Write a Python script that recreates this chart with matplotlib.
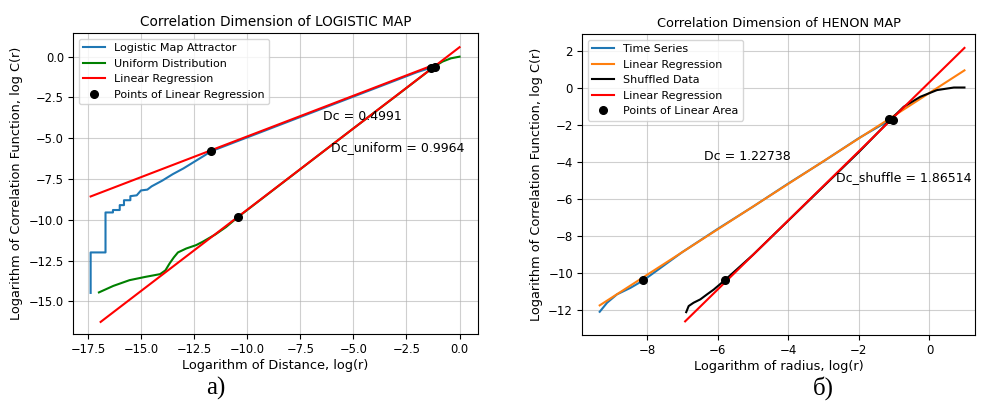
import numpy as np
import matplotlib.pyplot as plt

# --- left panel: logistic map ---
logistic_x = [-17.37, -17.37, -16.67, -16.67, -16.32, -16.32, -16.0, -16.0, -15.8, -15.8,
              -15.5, -15.5, -15.2, -15.0, -14.7, -14.5, -14.0, -13.5, -13.0, -12.5,
              -12.0, -11.7, -10.0, -8.0, -6.0, -4.0, -2.0, -1.35]
logistic_y = [-14.48, -12.0, -12.0, -9.55, -9.55, -9.4, -9.4, -9.1, -9.1, -8.8,
              -8.8, -8.55, -8.5, -8.2, -8.15, -7.95, -7.6, -7.2, -6.85, -6.45,
              -6.05, -5.8, -4.95, -3.95, -2.95, -1.95, -0.95, -0.68]

uniform_x = [-16.98, -16.3, -15.54, -14.8, -14.1, -13.85, -13.65, -13.45, -13.26, -12.87,
             -12.4, -12.1, -11.5, -11.0, -10.45, -9.0, -7.0, -5.0, -3.0, -1.2,
             -0.8, -0.4, 0.0]
uniform_y = [-14.45, -14.05, -13.7, -13.5, -13.33, -13.1, -12.67, -12.3, -12.0, -11.76,
             -11.55, -11.35, -10.9, -10.45, -9.85, -8.4, -6.4, -4.4, -2.42, -0.62,
             -0.3, -0.1, 0.0]

dc_logistic, b_logistic = 0.4991, 0.1
dc_uniform, b_uniform = 0.9964, 0.58
reg_logistic_x = [-17.37, -1.2]
reg_uniform_x = [-16.9, 0.0]

pts_left_x = [-11.7, -1.35, -10.45, -1.15]
pts_left_y = [-5.8, -0.68, -9.83, -0.62]

# --- right panel: Henon map ---
series_x = [-9.34, -9.13, -8.85, -8.47, -8.1, -7.0, -6.0, -5.0, -4.0, -3.0, -2.0, -1.1]
series_y = [-12.07, -11.58, -11.13, -10.78, -10.37, -8.85, -7.6, -6.4, -5.15, -3.95, -2.7, -1.7]

shuffled_x = [-6.89, -6.82, -6.68, -6.49, -6.3, -6.11, -5.8, -5.0, -4.0, -3.0, -2.0,
              -1.1, -0.73, -0.26, 0.21, 0.69, 0.99]
shuffled_y = [-12.09, -11.76, -11.58, -11.4, -11.13, -10.87, -10.37, -9.0, -7.15, -5.3, -3.45,
              -1.7, -1.01, -0.47, -0.11, 0.03, 0.03]

dc_series, b_series = 1.22738, -0.26
dc_shuffle, b_shuffle = 1.86514, 0.32
reg_series_x = [-9.34, 0.99]
reg_shuffle_x = [-6.92, 0.99]

pts_right_x = [-8.1, -1.16, -5.8, -1.03]
pts_right_y = [-10.37, -1.67, -10.37, -1.73]

fig = plt.figure(figsize=(9.84, 4.12), dpi=100)
fs = 9.3

# %% left
ax1 = fig.add_axes([0.0742, 0.1893, 0.4116, 0.7306])
ax1.plot(logistic_x, logistic_y, color='#1f77b4', lw=1.5, label='Logistic Map Attractor')
ax1.plot(uniform_x, uniform_y, color='green', lw=1.5, label='Uniform Distribution')
rx = np.array(reg_logistic_x)
ax1.plot(rx, dc_logistic * rx + b_logistic, color='red', lw=1.5, label='Linear Regression')
ux = np.array(reg_uniform_x)
ax1.plot(ux, dc_uniform * ux + b_uniform, color='red', lw=1.5)
ax1.plot(pts_left_x, pts_left_y, 'o', color='black', ms=5.5, label='Points of Linear Regression')
ax1.text(-6.45, -3.64, 'Dc = 0.4991', fontsize=9, va='center')
ax1.text(-6.03, -5.6, 'Dc_uniform = 0.9964', fontsize=9, va='center')
ax1.set_xlim(-18.2, 0.87)
ax1.set_ylim(-17.0, 1.45)
ax1.set_xticks([-17.5, -15.0, -12.5, -10.0, -7.5, -5.0, -2.5, 0.0])
ax1.set_yticks([0.0, -2.5, -5.0, -7.5, -10.0, -12.5, -15.0])
ax1.set_title('Correlation Dimension of LOGISTIC MAP', fontsize=9.8, pad=5)
ax1.set_xlabel('Logarithm of Distance, log(r)', fontsize=fs, labelpad=2)
ax1.set_ylabel('Logarithm of Correlation Function, log C(r)', fontsize=fs)
ax1.tick_params(labelsize=8.3, pad=3)
ax1.grid(True, alpha=0.6)
ax1.legend(loc='upper left', fontsize=8)

# %% right
ax2 = fig.add_axes([0.5915, 0.187, 0.3994, 0.7306])
ax2.plot(series_x, series_y, color='#1f77b4', lw=1.5, label='Time Series')
sx = np.array(reg_series_x)
ax2.plot(sx, dc_series * sx + b_series, color='#ff7f0e', lw=1.5, label='Linear Regression')
ax2.plot(shuffled_x, shuffled_y, color='black', lw=1.5, label='Shuffled Data')
hx = np.array(reg_shuffle_x)
ax2.plot(hx, dc_shuffle * hx + b_shuffle, color='red', lw=1.5, label='Linear Regression')
ax2.plot(pts_right_x, pts_right_y, 'o', color='black', ms=5.5, label='Points of Linear Area')
ax2.text(-6.4, -3.71, 'Dc = 1.22738', fontsize=9, va='center')
ax2.text(-2.64, -4.8, 'Dc_shuffle = 1.86514', fontsize=9, va='center')
ax2.set_xlim(-9.84, 1.29)
ax2.set_ylim(-13.32, 2.92)
ax2.set_xticks([-8, -6, -4, -2, 0])
ax2.set_yticks([2, 0, -2, -4, -6, -8, -10, -12])
ax2.set_title('Correlation Dimension of HENON MAP', fontsize=9.3, pad=5)
ax2.set_xlabel('Logarithm of radius, log(r)', fontsize=fs, labelpad=2)
ax2.set_ylabel('Logarithm of Correlation Function, log C(r)', fontsize=fs)
ax2.tick_params(labelsize=8.5, pad=3)
ax2.grid(True, alpha=0.6)
ax2.legend(loc='upper left', fontsize=8)

fig.text(216 / 984, 1 - 388 / 412, 'а)', fontsize=18, family='Liberation Serif', ha='center', va='center')
fig.text(823 / 984, 1 - 388 / 412, 'б)', fontsize=18, family='Liberation Serif', ha='center', va='center')

plt.savefig('out.png', dpi=100)
